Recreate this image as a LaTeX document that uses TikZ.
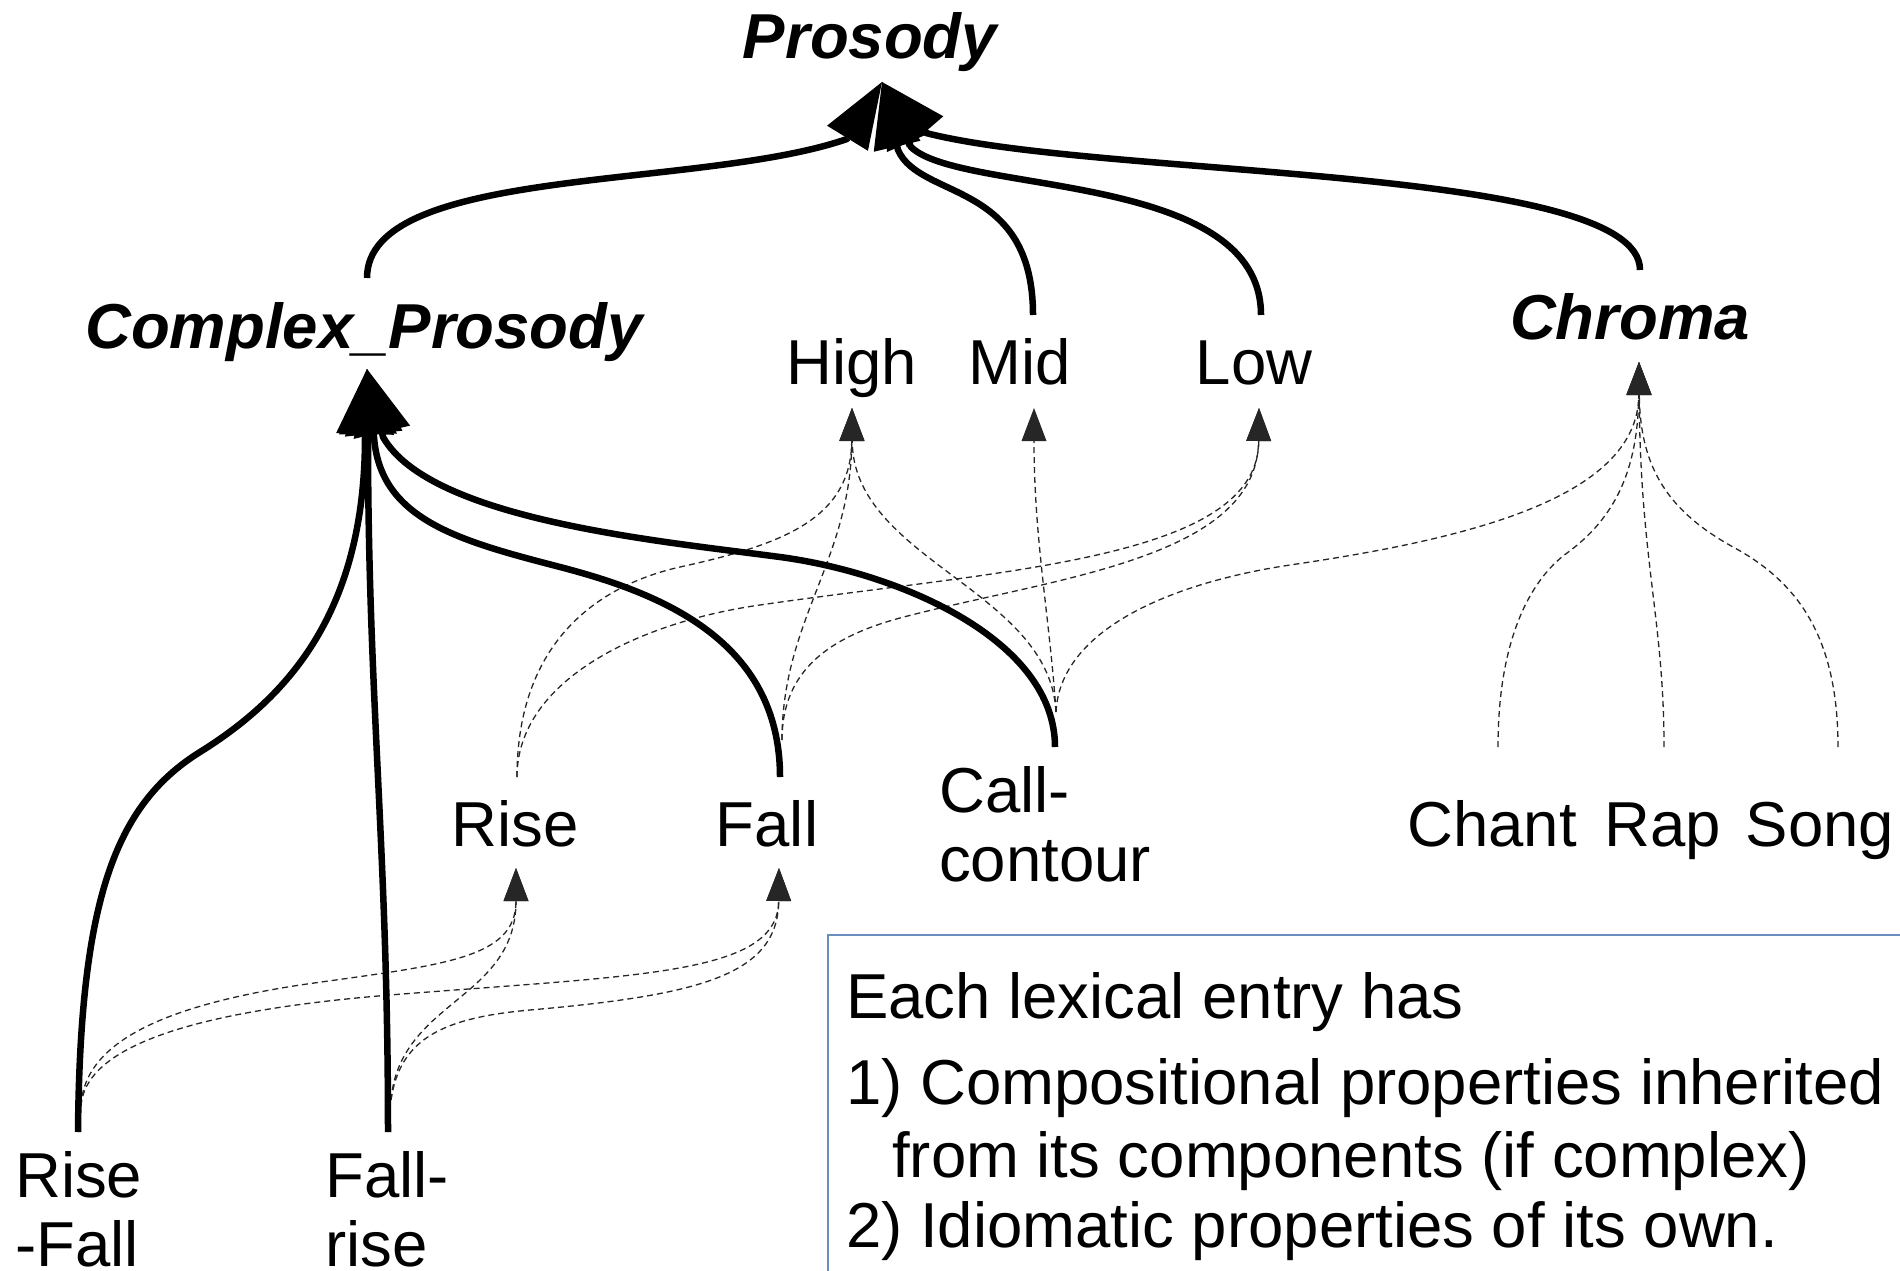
\documentclass[tikz,border=0pt]{standalone}
\usepackage{fontspec}
\setmainfont{Liberation Sans}
\usetikzlibrary{arrows.meta}
\definecolor{noteblue}{RGB}{108,142,191}
\newcommand\stacked[1]{\begin{tabular}[t]{@{}l@{}}#1\end{tabular}}
\begin{document}
\begin{tikzpicture}[x=1pt,y=-1pt,
  lbl/.style={inner sep=0pt, anchor=base, font=\fontsize{63.5}{69}\selectfont},
  cls/.style={inner sep=0pt, anchor=base, font=\fontsize{63.5}{69}\selectfont\bfseries\itshape},
  multi/.style={inner sep=0pt, anchor=base west, font=\fontsize{63.5}{69}\selectfont},
  toprosody/.style={line width=6.5pt, line join=round, -{Triangle[length=66pt,width=48pt,line width=0pt]}},
  tocomplex/.style={line width=6.5pt, line join=round, -{Triangle[length=65pt,width=58pt,line width=0pt]}},
  dashlink/.style={line width=1.3pt, black!85, dash pattern=on 6pt off 4pt, -{Triangle[length=33pt,width=25pt,line width=0pt]}}
]
\useasboundingbox (0,0) rectangle (1900,1271);

% ---------- nodes ----------
\node[cls] (prosody) at (870,59) {Prosody};
\node[cls] (cp) at (364,348) {Complex\_Prosody};
\node[cls] (chroma) at (1630,339) {Chroma};
\node[lbl] (high) at (852,384) {High};
\node[lbl] (mid) at (1020,384) {Mid};
\node[lbl] (low) at (1254,384) {Low};
\node[lbl] (rise) at (515,846) {Rise};
\node[lbl] (fall) at (767,846) {Fall};
\node[multi] (call) at (939,812) {\stacked{Call-\\contour}};
\node[lbl] (chant) at (1492,846) {Chant};
\node[lbl] (rap) at (1663,846) {Rap};
\node[lbl] (song) at (1820,846) {Song};
\node[multi] (risefall) at (15,1197) {\stacked{Rise\\-Fall}};
\node[multi] (fallrise) at (325,1197) {\stacked{Fall-\\rise}};

% ---------- note box ----------
\draw[noteblue, line width=1.5pt] (1905,935) -- (828,935) -- (828,1280);
\node[inner sep=0pt, anchor=base west, font=\fontsize{63.5}{70.5}\selectfont] (note) at (846,1018)
  {\begin{tabular}[t]{@{}l@{}}Each lexical entry has\\[15.5pt]
   1) Compositional properties inherited\\[2.5pt]
   \hspace*{46pt}from its components (if complex)\\
   2) Idiomatic properties of its own.\end{tabular}};

% ---------- ports ----------
\coordinate (prosody-in) at (882,82);
\coordinate (cp-out) at (367,278);
\coordinate (mid-out) at (1033,315);
\coordinate (low-out) at (1261,315);
\coordinate (chroma-out) at (1640,270);
\coordinate (cp-in) at (367,369);
\coordinate (rf-out) at (78,1132);
\coordinate (fr-out) at (388,1132);
\coordinate (fall-out) at (780,777);
\coordinate (call-out) at (1055,747);
\coordinate (high-in) at (852,408);
\coordinate (mid-in) at (1034,408);
\coordinate (low-in) at (1259,408);
\coordinate (chroma-in) at (1639,362);
\coordinate (rise-in) at (516,868);
\coordinate (fall-in) at (779,868);
\coordinate (rise-out) at (517,777);
\coordinate (fall-dout) at (782,740);
\coordinate (call-dout) at (1056,712);
\coordinate (rf-dout) at (81,1106);
\coordinate (fr-dout) at (391,1100);
\coordinate (chant-out) at (1498,747);
\coordinate (rap-out) at (1664,747);
\coordinate (song-out) at (1838,747);

% ---------- dashed (component) links ----------
\draw[dashlink] (rise-out) .. controls (517,640) and (600,585) .. (680,567)
                .. controls (780,545) and (851,520) .. (high-in);
\draw[dashlink] (rise-out) .. controls (517,680) and (640,622) .. (760,605)
                .. controls (1000,570) and (1258,560) .. (low-in);
\draw[dashlink] (fall-dout) .. controls (782,620) and (851,560) .. (high-in);
\draw[dashlink] (fall-dout) .. controls (782,670) and (830,637) .. (900,618)
                .. controls (1050,578) and (1257,560) .. (low-in);
\draw[dashlink] (call-dout) .. controls (1050,590) and (853,560) .. (high-in);
\draw[dashlink] (call-dout) .. controls (1050,620) and (1034,540) .. (mid-in);
\draw[dashlink] (call-dout) .. controls (1060,630) and (1170,583) .. (1290,565)
                .. controls (1460,540) and (1638,500) .. (chroma-in);
\draw[dashlink] (chant-out) .. controls (1498,640) and (1530,580) .. (1567,553)
                .. controls (1615,518) and (1638,470) .. (chroma-in);
\draw[dashlink] (rap-out) .. controls (1664,620) and (1640,560) .. (chroma-in);
\draw[dashlink] (song-out) .. controls (1838,640) and (1800,583) .. (1733,547)
                .. controls (1670,512) and (1640,470) .. (chroma-in);
\draw[dashlink] (rf-dout) .. controls (84,1040) and (170,1005) .. (300,985)
                .. controls (440,965) and (516,960) .. (rise-in);
\draw[dashlink] (rf-dout) .. controls (85,1050) and (180,1012) .. (390,995)
                .. controls (640,975) and (778,975) .. (fall-in);
\draw[dashlink] (fr-dout) .. controls (400,1000) and (516,1000) .. (rise-in);
\draw[dashlink] (fr-dout) .. controls (400,1040) and (440,1018) .. (530,1010)
                .. controls (700,995) and (778,975) .. (fall-in);

% ---------- thick (inheritance) links ----------
\draw[toprosody] (cp-out) .. controls (367,165) and (700,190) .. (847,139) -- (prosody-in);
\draw[toprosody] (mid-out) .. controls (1033,180) and (920,200) .. (898,150) -- (prosody-in);
\draw[toprosody] (low-out) .. controls (1261,170) and (960,195) .. (911,147) -- (prosody-in);
\draw[toprosody] (chroma-out) .. controls (1640,165) and (1100,178) .. (926,133) -- (prosody-in);

\draw[tocomplex] (rf-out) .. controls (80,900) and (115,805) .. (200,752)
                 .. controls (290,696) and (365,610) .. (365,437) -- (cp-in);
\draw[tocomplex] (fr-out) .. controls (388,850) and (368,700) .. (368,437) -- (cp-in);
\draw[tocomplex] (fall-out) .. controls (780,640) and (660,593) .. (560,567)
                 .. controls (460,541) and (380,520) .. (374,437) -- (cp-in);
\draw[tocomplex] (call-out) .. controls (1055,640) and (900,573) .. (780,557)
                 .. controls (660,541) and (430,520) .. (383,437) -- (cp-in);
\end{tikzpicture}
\end{document}
